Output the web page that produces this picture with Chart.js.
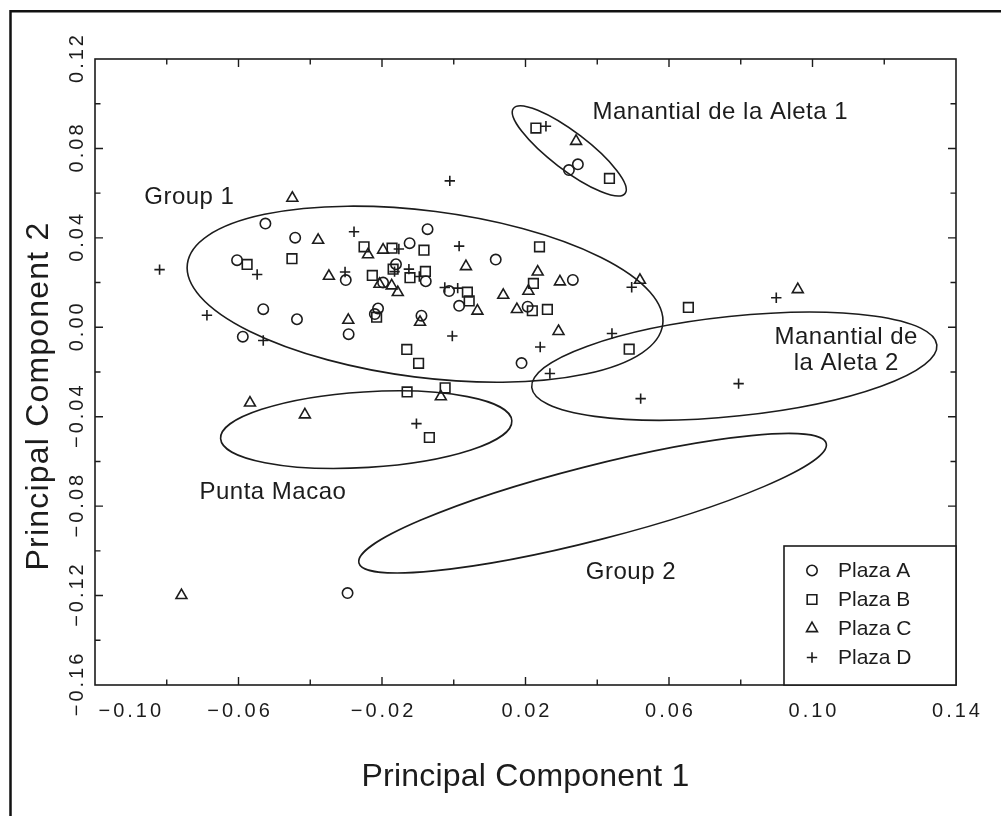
<!DOCTYPE html>
<html>
<head>
<meta charset="utf-8">
<script src="https://cdn.jsdelivr.net/npm/chart.js@4.4.1/dist/chart.umd.min.js"></script>
<style>
  html, body { margin: 0; padding: 0; background: #fff; }
  #wrap { position: relative; width: 1001px; height: 816px; }
</style>
</head>
<body>
<div id="wrap"><canvas id="pca" width="1001" height="816"></canvas></div>
<script>
// --- values (PC1 = x, PC2 = y) ---
const SERIES_NAMES = ['Plaza A', 'Plaza B', 'Plaza C', 'Plaza D'];

const plazaA_pc1 = [-0.0525, -0.0442, -0.0604, -0.0123, -0.0073, 0.0117, -0.0301, -0.0197, -0.0161, -0.0078, -0.0013, 0.0015, -0.0531, -0.0437, -0.0588, -0.0293, -0.0211, -0.0220, -0.0090, -0.0296, 0.0346, 0.0321, 0.0332, 0.0206, 0.0189];
const plazaA_pc2 = [0.0464, 0.0401, 0.0300, 0.0376, 0.0439, 0.0303, 0.0211, 0.0200, 0.0282, 0.0206, 0.0162, 0.0096, 0.0081, 0.0036, -0.0042, -0.0031, 0.0084, 0.0059, 0.0052, -0.1189, 0.0729, 0.0703, 0.0212, 0.0092, -0.0160];

const plazaB_pc1 = [-0.0576, -0.0451, -0.0250, -0.0172, -0.0083, -0.0227, -0.0169, -0.0122, -0.0079, 0.0038, 0.0043, -0.0215, -0.0131, -0.0098, -0.0130, -0.0024, -0.0068, 0.0229, 0.0434, 0.0239, 0.0222, 0.0219, 0.0261, 0.0489, 0.0654];
const plazaB_pc2 = [0.0281, 0.0307, 0.0360, 0.0354, 0.0345, 0.0232, 0.0260, 0.0222, 0.0250, 0.0157, 0.0118, 0.0045, -0.0099, -0.0161, -0.0289, -0.0271, -0.0493, 0.0891, 0.0666, 0.0360, 0.0196, 0.0074, 0.0080, -0.0098, 0.0089];

const plazaC_pc1 = [-0.0450, -0.0378, -0.0239, -0.0197, 0.0034, -0.0348, -0.0207, -0.0173, -0.0156, 0.0066, -0.0294, -0.0094, -0.0036, -0.0568, -0.0415, -0.0759, 0.0341, 0.0234, 0.0208, 0.0296, 0.0138, 0.0176, 0.0292, 0.0519, 0.0959];
const plazaC_pc2 = [0.0578, 0.0390, 0.0325, 0.0346, 0.0272, 0.0229, 0.0193, 0.0186, 0.0156, 0.0073, 0.0032, 0.0023, -0.0310, -0.0338, -0.0391, -0.1199, 0.0832, 0.0248, 0.0162, 0.0204, 0.0144, 0.0080, -0.0018, 0.0211, 0.0169];

const plazaD_pc1 = [-0.0548, -0.0820, -0.0278, -0.0153, 0.0015, -0.0011, -0.0303, -0.0165, -0.0125, -0.0096, -0.0025, 0.0011, -0.0688, -0.0531, -0.0004, -0.0104, 0.0257, 0.0241, 0.0268, 0.0496, 0.0441, 0.0521, 0.0899, 0.0794];
const plazaD_pc2 = [0.0236, 0.0258, 0.0427, 0.0350, 0.0363, 0.0655, 0.0247, 0.0249, 0.0260, 0.0227, 0.0178, 0.0175, 0.0054, -0.0059, -0.0039, -0.0431, 0.0899, -0.0088, -0.0207, 0.0179, -0.0028, -0.0319, 0.0132, -0.0252];

const X_TICK_LABELS = ['\u22120.10', '\u22120.06', '\u22120.02', '0.02', '0.06', '0.10', '0.14'];
const Y_TICK_LABELS = ['\u22120.16', '\u22120.12', '\u22120.08', '\u22120.04', '0.00', '0.04', '0.08', '0.12'];

// group ellipses: centre and two conjugate half-axes, in data units
const ELLIPSE_CENTER = [[-0.0080, 0.0148], [0.0322, 0.0789], [0.0782, -0.0174], [-0.0244, -0.0458], [0.0387, -0.0787]];
const ELLIPSE_AXIS_U = [[0.06625, -0.01356], [0.01556, -0.01902], [0.05646, 0.00953], [0.04059, 0.00401], [0.06513, 0.02672]];
const ELLIPSE_AXIS_V = [[-0.00296, -0.03697], [-0.00315, -0.00667], [0.00145, -0.02220], [0.00065, -0.01688], [0.00256, -0.01605]];

// --- look ---
const INK = '#1c1c1c';
const FONT = '"Liberation Sans", Arial, sans-serif';
const POINT_STYLES = ['circle', 'rect', 'triangle', 'cross'];
const POINT_RADII = [5.2, 6.8, 6.3, 5.2];

const GROUP_LABELS = [
    { lines: ['Group 1'], x: -0.0737, y: 0.0582 },
    { lines: ['Manantial de la Aleta 1'], x: 0.0743, y: 0.0963 },
    { lines: ['Manantial de', 'la Aleta 2'], x: 0.1094, y: -0.0047 },
    { lines: ['Punta Macao'], x: -0.0504, y: -0.0738 },
    { lines: ['Group 2'], x: 0.0494, y: -0.1096 }
];

const PC1 = [plazaA_pc1, plazaB_pc1, plazaC_pc1, plazaD_pc1];
const PC2 = [plazaA_pc2, plazaB_pc2, plazaC_pc2, plazaD_pc2];

const datasets = SERIES_NAMES.map((name, i) => ({
    label: name,
    data: PC1[i].map((x, j) => ({ x: x, y: PC2[i][j] })),
    pointStyle: POINT_STYLES[i],
    pointRadius: POINT_RADII[i],
    pointBorderWidth: 1.6,
    pointBorderColor: INK,
    pointBackgroundColor: 'rgba(0,0,0,0)',
    showLine: false
}));

function toValue(label) {
    return parseFloat(label.replace('\u2212', '-'));
}

// ellipses under the points
const ellipsePlugin = {
    id: 'ellipses',
    beforeDatasetsDraw(chart) {
        const ctx = chart.ctx;
        const xs = chart.scales.x, ys = chart.scales.y;
        ctx.save();
        ctx.strokeStyle = INK;
        ctx.lineWidth = 1.6;
        ELLIPSE_CENTER.forEach((c, i) => {
            const cx = xs.getPixelForValue(c[0]), cy = ys.getPixelForValue(c[1]);
            const u = ELLIPSE_AXIS_U[i], v = ELLIPSE_AXIS_V[i];
            const ux = xs.getPixelForValue(c[0] + u[0]) - cx, uy = ys.getPixelForValue(c[1] + u[1]) - cy;
            const vx = xs.getPixelForValue(c[0] + v[0]) - cx, vy = ys.getPixelForValue(c[1] + v[1]) - cy;
            ctx.save();
            ctx.beginPath();
            ctx.transform(ux, uy, vx, vy, cx, cy);
            ctx.arc(0, 0, 1, 0, Math.PI * 2);
            ctx.restore();
            ctx.stroke();
        });
        ctx.restore();
    }
};

// frame, inward ticks, tick labels, titles, group names, legend
const decorPlugin = {
    id: 'decor',
    afterDraw(chart) {
        const ctx = chart.ctx;
        const a = chart.chartArea;
        const xs = chart.scales.x, ys = chart.scales.y;
        const xMajor = X_TICK_LABELS.map(toValue);
        const yMajor = Y_TICK_LABELS.map(toValue);
        const isMajor = (v, list) => list.some(m => Math.abs(m - v) < 1e-6);

        ctx.save();
        // outer figure border (left + top)
        ctx.strokeStyle = '#111';
        ctx.lineWidth = 2.5;
        ctx.beginPath();
        ctx.moveTo(10.5, 816);
        ctx.lineTo(10.5, 11.3);
        ctx.lineTo(1001, 11.3);
        ctx.stroke();

        // plot frame
        ctx.strokeStyle = INK;
        ctx.lineWidth = 1.6;
        ctx.strokeRect(a.left, a.top, a.right - a.left, a.bottom - a.top);

        // ticks pointing inward on all four sides
        ctx.lineWidth = 1.4;
        ctx.beginPath();
        xs.ticks.forEach(t => {
            const px = xs.getPixelForValue(t.value);
            if (px < a.left + 2 || px > a.right - 2) return;
            const len = isMajor(t.value, xMajor) ? 8 : 5.5;
            ctx.moveTo(px, a.bottom); ctx.lineTo(px, a.bottom - len);
            ctx.moveTo(px, a.top); ctx.lineTo(px, a.top + len);
        });
        ys.ticks.forEach(t => {
            const py = ys.getPixelForValue(t.value);
            if (py < a.top + 2 || py > a.bottom - 2) return;
            const len = isMajor(t.value, yMajor) ? 8 : 5.5;
            ctx.moveTo(a.left, py); ctx.lineTo(a.left + len, py);
            ctx.moveTo(a.right, py); ctx.lineTo(a.right - len, py);
        });
        ctx.stroke();

        // tick labels
        ctx.fillStyle = INK;
        ctx.font = '20px ' + FONT;
        ctx.letterSpacing = '3px';
        ctx.textAlign = 'center';
        ctx.textBaseline = 'alphabetic';
        X_TICK_LABELS.forEach(lbl => {
            const w = ctx.measureText(lbl).width;
            let px = xs.getPixelForValue(toValue(lbl));
            px = Math.max(px, a.left + w / 2 + 2);
            ctx.fillText(lbl, px + 1.5, a.bottom + 31.5);
        });
        Y_TICK_LABELS.forEach(lbl => {
            const py = ys.getPixelForValue(toValue(lbl));
            ctx.save();
            ctx.translate(a.left - 12, py);
            ctx.rotate(-Math.PI / 2);
            ctx.fillText(lbl, 1.5, 0);
            ctx.restore();
        });

        // axis titles
        ctx.font = '32px ' + FONT;
        ctx.letterSpacing = '0.2px';
        ctx.fillText('Principal Component 1', (a.left + a.right) / 2, 786);
        ctx.save();
        ctx.translate(48, 396);
        ctx.rotate(-Math.PI / 2);
        ctx.letterSpacing = '1.2px';
        ctx.fillText('Principal Component 2', 0, 0);
        ctx.restore();

        // group names
        ctx.font = '24px ' + FONT;
        ctx.letterSpacing = '0.5px';
        ctx.textBaseline = 'middle';
        GROUP_LABELS.forEach(g => {
            const px = xs.getPixelForValue(g.x);
            const py = ys.getPixelForValue(g.y);
            g.lines.forEach((line, k) => ctx.fillText(line, px, py + k * 26));
        });

        // legend box in the lower right corner
        const boxW = 172, boxH = 139;
        const bx = a.right - boxW, by = a.bottom - boxH;
        ctx.lineWidth = 1.6;
        ctx.strokeStyle = INK;
        ctx.fillStyle = '#fff';
        ctx.fillRect(bx, by, boxW, boxH);
        ctx.strokeRect(bx, by, boxW, boxH);
        ctx.font = '21px ' + FONT;
        ctx.letterSpacing = '0px';
        ctx.textAlign = 'left';
        chart.data.datasets.forEach((ds, i) => {
            const ry = by + 24.5 + i * 29;
            ctx.fillStyle = 'rgba(0,0,0,0)';
            ctx.strokeStyle = INK;
            ctx.lineWidth = 1.6;
            Chart.helpers.drawPoint(ctx, {
                pointStyle: ds.pointStyle,
                radius: ds.pointRadius,
                rotation: 0,
                borderWidth: 1.6
            }, bx + 28, ry);
            ctx.fillStyle = INK;
            ctx.fillText(ds.label, bx + 54, ry + 1);
        });
        ctx.restore();
    }
};

new Chart(document.getElementById('pca'), {
    type: 'scatter',
    data: { datasets: datasets },
    options: {
        responsive: false,
        animation: false,
        events: [],
        layout: { padding: { left: 95, right: 45, top: 59, bottom: 131 } },
        plugins: { legend: { display: false }, tooltip: { enabled: false } },
        scales: {
            x: {
                type: 'linear', min: -0.10, max: 0.14,
                ticks: { stepSize: 0.02, display: false },
                grid: { display: false, drawTicks: false }, border: { display: false }
            },
            y: {
                type: 'linear', min: -0.16, max: 0.12,
                ticks: { stepSize: 0.02, display: false },
                grid: { display: false, drawTicks: false }, border: { display: false }
            }
        }
    },
    plugins: [ellipsePlugin, decorPlugin]
});
</script>
</body>
</html>
